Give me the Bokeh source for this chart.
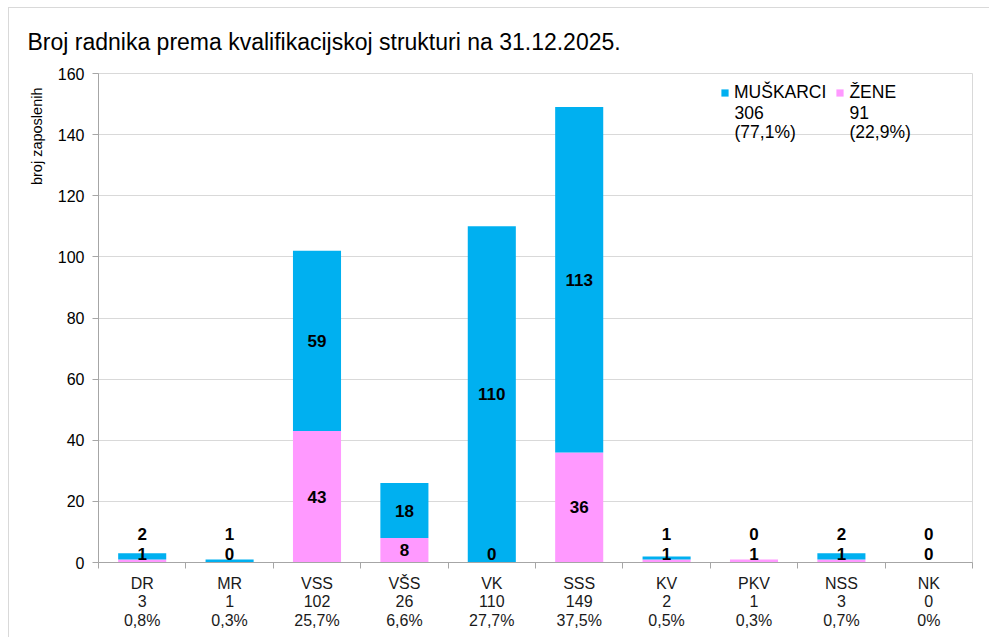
import math
from bokeh.plotting import figure
from bokeh.models import (Range1d, FixedTicker, ColumnDataSource, Legend,
                          LegendItem, Label, Title)
from bokeh.embed import file_html
from bokeh.resources import INLINE
from bokeh.core.properties import value

# ---------------- data ----------------
title_text = "Broj radnika prema kvalifikacijskoj strukturi na 31.12.2025."
y_label = "broj zaposlenih"
categories = ["DR", "MR", "VSS", "VŠS", "VK", "SSS", "KV", "PKV", "NSS", "NK"]
muskarci = [2, 1, 59, 18, 110, 113, 1, 0, 2, 0]
zene = [1, 0, 43, 8, 0, 36, 1, 1, 1, 0]
percent_labels = ["0,8%", "0,3%", "25,7%", "6,6%", "27,7%", "37,5%",
                  "0,5%", "0,3%", "0,7%", "0%"]
series_names = ["MUŠKARCI", "ŽENE"]
series_colors = ["#00B0F0", "#FF99FF"]
y_ticks = [0, 20, 40, 60, 80, 100, 120, 140, 160]

FONT = "Liberation Sans"

# ---------------- derived ----------------
n = len(categories)
xs = list(range(1, n + 1))
totals = [m + z for m, z in zip(muskarci, zene)]
grand = sum(totals)
sum_m = sum(muskarci)
sum_z = sum(zene)

def pct(v):
    return "(" + f"{100 * v / grand:.1f}".replace(".", ",") + "%)"

src = ColumnDataSource(dict(x=xs, muskarci=muskarci, zene=zene))

p = figure(width=981, height=630, output_backend="svg", toolbar_location=None,
           x_range=Range1d(0.5, n + 0.5), y_range=Range1d(0, 160),
           min_border_left=89, min_border_right=18, min_border_top=65,
           min_border_bottom=76, background_fill_color="white",
           border_fill_color="white")
p.styles = {"border-top": "1px solid #d9d9d9", "border-left": "1px solid #d9d9d9",
            "margin-left": "8px", "margin-top": "7px"}

renderers = p.vbar_stack(["zene", "muskarci"], x="x", width=0.55, source=src,
                         color=[series_colors[1], series_colors[0]], line_color=None)

# data labels
lx, ly, lt = [], [], []
for i, (m, z) in enumerate(zip(muskarci, zene)):
    pink_y = z / 2 if z >= 6 else 2.8
    blue_y = z + m / 2 if m >= 6 else pink_y + 6.5
    lx += [xs[i], xs[i]]
    ly += [pink_y, blue_y]
    lt += [str(z), str(m)]
p.text(x="x", y="y", text="t", source=ColumnDataSource(dict(x=lx, y=ly, t=lt)),
       text_font=value(FONT), text_font_style="bold", text_font_size="17px",
       text_align="center", text_baseline="middle", text_color="black")

# title
p.title.text = title_text
p.title.text_font = FONT
p.title.text_font_size = "23px"
p.title.text_font_style = "normal"
p.title.text_color = "black"
p.title.align = "left"
p.title.offset = -71
p.title.standoff = 37

# axes
p.xgrid.visible = False
p.ygrid.grid_line_color = "#d9d9d9"
p.outline_line_color = "#d9d9d9"

xa = p.xaxis[0]
xa.ticker = FixedTicker(ticks=xs, minor_ticks=[x - 0.5 for x in xs] + [n + 0.5])
xa.major_label_overrides = {x: f"{c}\n{t}\n{pl}" for x, c, t, pl in
                            zip(xs, categories, totals, percent_labels)}
xa.major_tick_out = 0
xa.major_tick_in = 0
xa.minor_tick_out = 6
xa.minor_tick_in = 0
xa.axis_line_color = "#a6a6a6"
xa.minor_tick_line_color = "#a6a6a6"
xa.major_label_text_font = FONT
xa.major_label_text_font_size = "16px"
xa.major_label_text_line_height = 1.1
xa.major_label_text_color = "#1a1a1a"
xa.major_label_standoff = 6

ya = p.yaxis[0]
ya.ticker = FixedTicker(ticks=y_ticks)
ya.major_tick_out = 6
ya.major_tick_in = 0
ya.minor_tick_line_color = None
ya.axis_line_color = "#a6a6a6"
ya.major_tick_line_color = "#a6a6a6"
ya.major_label_text_font = FONT
ya.major_label_text_font_size = "16px"
ya.major_label_text_color = "black"
ya.major_label_standoff = 8

p.add_layout(Title(text=y_label, align="right", offset=14, standoff=19,
                   text_font=FONT, text_font_size="14.5px",
                   text_font_style="normal", text_color="black"), "left")

# legend
legend = Legend(items=[LegendItem(label=series_names[0], renderers=[renderers[1]]),
                       LegendItem(label=series_names[1], renderers=[renderers[0]])],
                orientation="horizontal", location=(622, 459),
                glyph_width=9, glyph_height=9, label_standoff=5, spacing=9,
                padding=0, margin=0, border_line_color=None,
                background_fill_alpha=0, label_text_font=FONT,
                label_text_font_size="17.5px", label_text_color="black",
                label_height=20)
p.add_layout(legend)

legend_lines = [(636, [str(sum_m), pct(sum_m)]), (751, [str(sum_z), pct(sum_z)])]
for lx0, lines in legend_lines:
    for k, txt in enumerate(lines):
        p.add_layout(Label(x=lx0, y=457 - 16 * k, x_units="screen", y_units="screen",
                           text=txt, text_align="left", text_baseline="top",
                           text_font=FONT, text_font_size="17.5px",
                           text_color="black"))

open("out.html", "w").write(file_html(p, INLINE))
